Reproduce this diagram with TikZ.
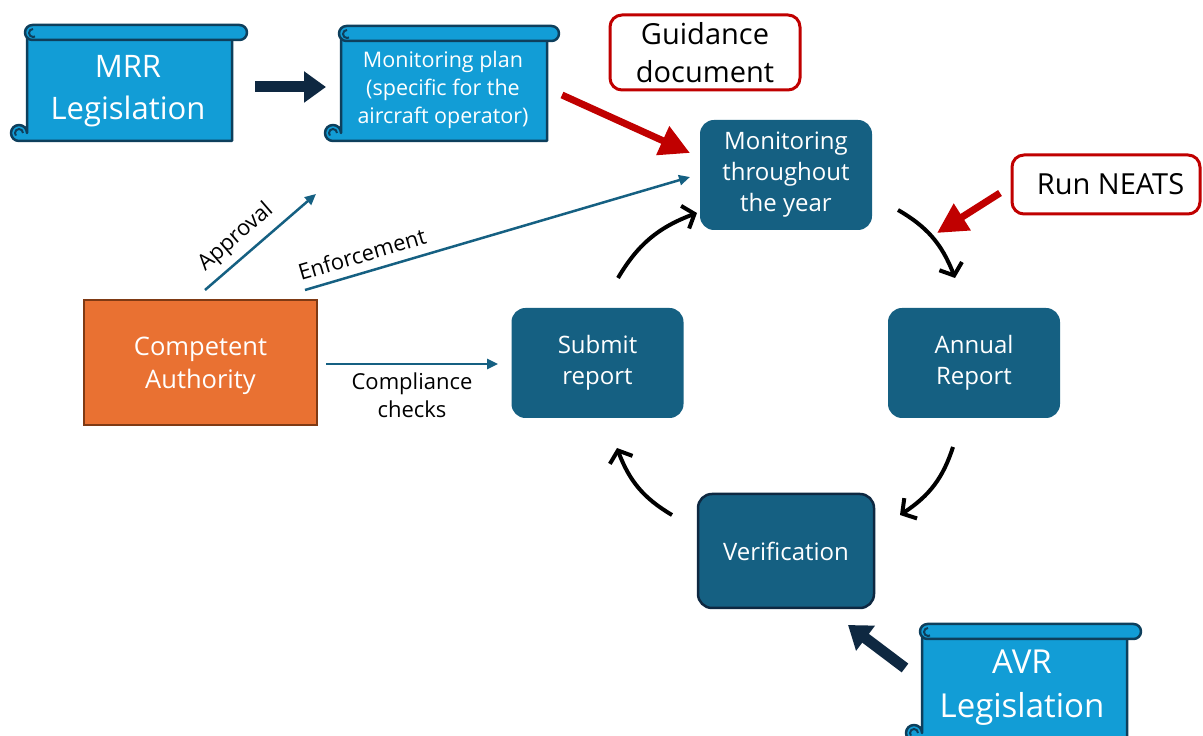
\documentclass[tikz,border=0pt]{standalone}
\usepackage{fontspec}
\setmainfont{Open Sans}
\usetikzlibrary{arrows.meta,bending}
\definecolor{scrollblue}{HTML}{129DD6}
\definecolor{scrollline}{HTML}{0E3F5C}
\definecolor{boxteal}{HTML}{156082}
\definecolor{navy}{HTML}{0E2841}
\definecolor{orng}{HTML}{E97132}
\definecolor{orngline}{HTML}{7F3A14}
\definecolor{redc}{HTML}{C00000}
\tikzset{
  scrollpart/.style={fill=scrollblue, draw=scrollline, line width=2.5pt, line join=round},
  scrollthin/.style={draw=scrollline, line width=2pt},
  scrolltext/.style={text=white, align=center, inner sep=0pt},
  boxst/.style={fill=boxteal, rounded corners=14pt, minimum width=172pt, minimum height=110pt,
    text=white, align=center, inner sep=0pt, font=\fontsize{24}{31}\selectfont},
  redbox/.style={draw=redc, line width=3pt, rounded corners=12pt, fill=white, align=center,
    inner sep=0pt, font=\fontsize{29}{38}\selectfont},
  thickdark/.style={draw=navy, line width=11pt, -{Triangle[length=22pt,width=30pt]}},
  redarrow/.style={draw=redc, line width=7pt, -{Triangle[length=30pt,width=30pt]}},
  tealarrow/.style={draw=boxteal, line width=2.5pt, -{Triangle[length=11pt,width=10pt]}},
  cyclearrow/.style={draw=black, line width=4pt, -{Straight Barb[length=10pt,width=24pt,flex]}},
  lbl/.style={inner sep=0pt, align=center, font=\fontsize{22}{28}\selectfont},
}
\newcommand\drawscroll[5]{%
  \filldraw[scrollpart] (#1,#2-7) -- (#3,#2-7) -- (#3,#4) -- (#1-8,#4)
     arc[start angle=270,end angle=0,radius=8] -- cycle;
  \draw[scrollthin] (#1-4,#4+8) arc[start angle=0,end angle=220,radius=4];
  \filldraw[scrollpart, rounded corners=7.5pt] (#1-2,#2-15) rectangle (#5,#2);
  \draw[scrollthin] (#1+6,#2-4) arc[start angle=90,end angle=300,radius=4];
}
\begin{document}
\begin{tikzpicture}[x=1pt,y=1pt]
\useasboundingbox (0,0) rectangle (1203,736);
\clip (0,0) rectangle (1203,736);
\fill[white] (0,0) rectangle (1203,736);

% scrolls
\drawscroll{27}{711}{232}{595}{247}
\drawscroll{341}{710}{547}{595}{559}
\drawscroll{922}{112}{1127}{-5}{1141}

\node[scrolltext, font=\fontsize{31}{42}\selectfont] (mrr) at (128,645) {MRR\\Legislation};
\node[scrolltext, font=\fontsize{21.5}{28}\selectfont] (plan) at (443,646) {Monitoring plan\\(specific for the\\aircraft operator)};
\node[scrolltext, font=\fontsize{33}{44}\selectfont] (avr) at (1022,48) {AVR\\Legislation};

% red boxes
\node[redbox, minimum width=190pt, minimum height=75pt] (guid) at (705,683.5) {Guidance\\document};
\node[redbox, minimum width=188pt, minimum height=59pt] (neats) at (1106,551.5) {\hspace*{9pt}Run NEATS};

% process boxes
\node[boxst] (mon) at (786,561) {Monitoring\\throughout\\the year};
\node[boxst] (ann) at (974,373) {Annual\\Report};
\node[boxst] (sub) at (597.5,373) {Submit\\report};
\node[boxst, draw=navy, line width=2.5pt, minimum width=176pt, minimum height=114pt] (ver) at (786,185) {Verification};

\node[fill=orng, draw=orngline, line width=2pt, minimum width=233pt, minimum height=125pt,
  inner sep=0pt] (ca) at (200.5,373.5) {};
\node[text=white, align=center, inner sep=0pt, font=\fontsize{25.5}{33}\selectfont]
  (catext) at (200.5,370) {Competent\\Authority};

% arrow end points
\coordinate (a1s) at (255,649); \coordinate (a1e) at (326,649);
\coordinate (a2s) at (905,68);  \coordinate (a2e) at (848,111);
\coordinate (r1s) at (562,641); \coordinate (r1e) at (690,583);
\coordinate (r2s) at (1000,543); \coordinate (r2e) at (937,503);
\coordinate (aps) at (205,446); \coordinate (ape) at (316,542);
\coordinate (ens) at (305,446); \coordinate (ene) at (690,559);
\coordinate (cos) at (326,372); \coordinate (coe) at (498,372);
\coordinate (c1s) at (618,458); \coordinate (c1e) at (697,523);
\coordinate (c2s) at (898,526); \coordinate (c2e) at (955,458);
\coordinate (c3s) at (953,289); \coordinate (c3e) at (900,221);
\coordinate (c4s) at (672,221); \coordinate (c4e) at (617,288);

\draw[thickdark] (a1s) -- (a1e);
\draw[thickdark] (a2s) -- (a2e);
\draw[redarrow] (r1s) -- (r1e);
\draw[redarrow] (r2s) -- (r2e);
\draw[tealarrow] (aps) -- (ape);
\draw[tealarrow] (ens) -- (ene);
\draw[tealarrow] (cos) -- (coe);
\draw[cyclearrow] (c1s) to[bend left=20] (c1e);
\draw[cyclearrow] (c2s) to[bend left=20] (c2e);
\draw[cyclearrow] (c3s) to[bend left=20] (c3e);
\draw[cyclearrow] (c4s) to[bend left=20] (c4e);

% labels
\node[lbl, rotate=41] (lap) at (236,499) {Approval};
\node[lbl, rotate=16.4] (len) at (362,482) {Enforcement};
\node[lbl] (lco) at (412,341) {Compliance\\checks};
\end{tikzpicture}
\end{document}
